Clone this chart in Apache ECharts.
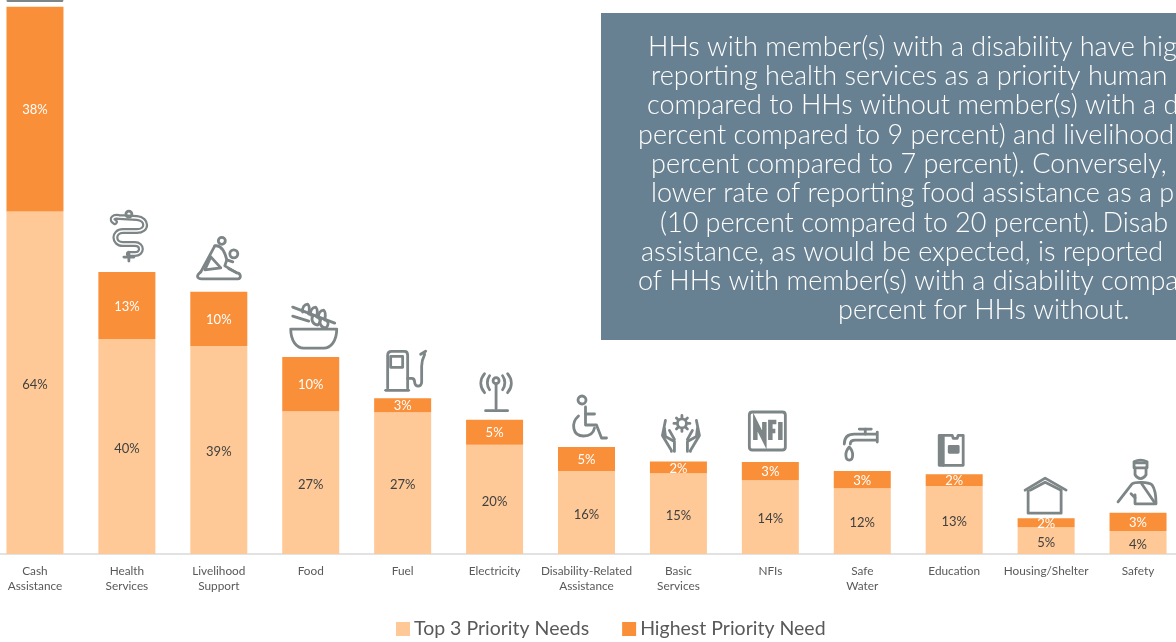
<!DOCTYPE html>
<html><head><meta charset="utf-8">
<script src="https://cdn.jsdelivr.net/npm/echarts@6/dist/echarts.min.js"></script>
<style>html,body{margin:0;padding:0;background:#fff}#c{width:1176px;height:642px}</style>
</head><body><div id="c"></div>
<script>
const categories = ['Cash\nAssistance','Health\nServices','Livelihood\nSupport','Food','Fuel','Electricity','Disability-Related\nAssistance','Basic\nServices','NFIs','Safe\nWater','Education','Housing/Shelter','Safety'];
const top3Needs = [64,40.2,38.9,26.7,26.5,20.4,15.5,15.1,13.8,12.3,12.7,5,4.3];
const highestNeed = [38.3,12.5,10.1,10.1,2.6,4.7,4.5,2.2,3.4,3.2,2.2,1.7,3.4];
const noteLines = ['HHs with member(s) with a disability have hig','reporting health services as a priority human','compared to HHs without member(s) with a d','percent compared to 9 percent) and livelihood','percent compared to 7 percent). Conversely,','lower rate of reporting food assistance as a p','(10 percent compared to 20 percent). Disab','assistance, as would be expected, is reported','of HHs with member(s) with a disability compa','percent for HHs without.'];
const noteStarts = [648,651,647,638,651,651,660,641,638,838];

// icon outlines, local to the top centre of each bar
const icons = [
 {s:['M-27 -6H27']},
 {s:['M-3 -15H7','M2 -20V-11'],t:['M-12 -50C-17 -53 -13 -56 -8 -55L10 -54C21 -53 21 -41 10 -41L-4 -41C-14 -41 -14 -28 -4 -28L8 -28C16 -28 16 -18 8 -18L2 -18'],c:[[2,-58,3]]},
 {s:['M-18 -20C-23 -16 -22 -13 -17 -13H19C23 -13 22 -19 18 -19L10 -23','M-4 -46L-18 -20','M-4 -46C2 -47 6 -40 8 -32L14 -30','M-8 -35L-14 -22L2 -24L-8 -35','M8 -32L6 -26L18 -19'],c:[[3,-51,3.5],[15,-38,4]]},
 {s:['M-20 -28H26C26 -16 20 -9 13 -9H-7C-14 -9 -20 -16 -20 -28Z','M-18 -50L24 -34','M-18 -41L-2 -36','M-8 -45C-9 -50 -6 -53 -3 -53C0 -50 -2 -45 -2 -43','M0 -42C-1 -47 2 -50 5 -50C8 -47 6 -42 6 -40','M8 -39C7 -44 10 -47 13 -47C16 -44 14 -39 14 -37','M2 -41C0 -37 2 -33 7 -32C10 -35 10 -38 8 -39','M10 -38C8 -34 10 -30 15 -29C18 -32 18 -35 16 -36']},
 {s:['M-15 -10V-43C-15 -46 -13 -47 -11 -47H2C4 -47 5 -46 5 -43V-10','M-12 -42H0V-31H-12Z','M-17 -8H6','M5 -20H9C11 -20 12 -18 12 -16C12 -11 19 -11 19 -16V-32C19 -36 20 -40 22 -44','M18 -44L23 -47']},
 {s:['M1.5 -36V-11','M-9 -9H13','M-5 -44C-8 -40 -8 -34 -5 -30','M-10 -46C-15 -40 -15 -33 -10 -27','M8 -44C11 -40 11 -34 8 -30','M13 -46C18 -40 18 -33 13 -27'],c:[[1.5,-39,3]]},
 {s:['M-1 -40V-22H10L15 -9L20 -9','M-1 -33H8','M-8 -31C-16 -24 -14 -11 -3 -11C3 -11 7 -14 8 -19'],c:[[-4.5,-47,4]]},
 {s:['M-13 -41L-16 -26L-7 -11V-10','M-14 -33L-13 -25L-4 -20V-10','M-9 -31L-4 -22','M18 -41L21 -26L12 -11V-10','M19 -33L18 -25L9 -20V-10','M14 -31L9 -22','M3.5 -46V-44M3.5 -32V-30M-4.5 -38H-2.5M9.5 -38H11.5M-2 -43.5L-0.5 -42M7.5 -34L9 -32.5M9 -43.5L7.5 -42M-0.5 -34L-2 -32.5'],c:[[3.5,-38,4.5]]},
 {s:['M-18 -50H12C14 -50 15 -49 15 -47V-15C15 -13 14 -12 12 -12H-18C-20 -12 -21 -13 -21 -15V-47C-21 -49 -20 -50 -18 -50Z']},
 {s:['M-18 -27C-18 -34 -14 -37 -8 -37H14','M-12 -27C-12 -30 -10 -31 -7 -31H14','M15 -39V-29','M-3 -42H9','M3 -42V-37','M-13 -24C-18 -19 -17 -11 -13 -11C-9 -11 -8 -19 -13 -24']},
 {s:['M-15 -39H-2L-1 -36H3L4 -39H9V-9H-15Z','M-11 -39V-9','M-5 -28H4V-22H-5Z'],f:['M-15 -39H-10V-9H-15Z','M-5 -28H4V-22H-5Z']},
 {s:['M-21 -28L-1 -40L20 -28','M-16 -28L-1 -36L15 -28','M-18 -27V-5H15V-27']},
 {s:['M-4 -50H9V-45H-4Z','M-3 -45V-38C0 -33 5 -33 8 -38V-45','M-4 -51C0 -53 5 -53 9 -51','M-20 -11L-6 -29C-3 -31 10 -31 14 -28C17 -24 18 -16 18 -9H-3V-18','M-7 -19L-3 -15M3 -30L16 -11']}
];
const iconData = top3Needs.map((v,i)=>[i, v+highestNeed[i]]);
const pct = p => Math.round(p.value)+'%';
const stroke = '#7d8587';
const lineStyle = {fill:'none',stroke,lineWidth:2.8,lineCap:'round',lineJoin:'round'};

const chart = echarts.init(document.getElementById('c'),null,{renderer:'canvas'});
const font = 'Lato, Carlito, sans-serif';
chart.setOption({
 animation:false,
 backgroundColor:'#fff',
 textStyle:{fontFamily:font},
 grid:{left:-11,width:1195,top:-34.5,height:588.5,containLabel:false,outerBoundsMode:'none'},
 legend:{left:391,top:614,itemWidth:14,itemHeight:14,itemGap:33,icon:'rect',
   data:['Top 3 Priority Needs','Highest Priority Need'],
   textStyle:{fontSize:19.5,color:'#595959',fontFamily:font,padding:[2,0,0,-1]}},
 xAxis:{type:'category',data:categories,axisTick:{show:false},
   axisLine:{lineStyle:{color:'#d9d9d9',width:1.5}},
   axisLabel:{color:'#595959',fontSize:11.8,lineHeight:15,margin:10,interval:0,fontFamily:font}},
 yAxis:{type:'value',min:0,max:110,show:false,splitLine:{show:false}},
 series:[
  {name:'Top 3 Priority Needs',type:'bar',stack:'n',data:top3Needs,barWidth:57,
   itemStyle:{color:'#fec997'},
   label:{show:true,position:'inside',offset:[0,2],formatter:pct,color:'#404040',fontSize:13,fontFamily:font}},
  {name:'Highest Priority Need',type:'bar',stack:'n',data:highestNeed,barWidth:57,
   itemStyle:{color:'#f98f38'},
   label:{show:true,position:'inside',offset:[0,1],formatter:pct,color:'#fff',fontSize:13,fontFamily:font}},
  {type:'custom',data:iconData,encode:{x:0,y:1},clip:false,silent:true,z:5,
   renderItem:(params,api)=>{
     const ic = icons[api.value(0)];
     const pt = api.coord([api.value(0),api.value(1)]);
     const children = [];
     (ic.t||[]).forEach(d=>{
       children.push({type:'path',shape:{pathData:d},style:{...lineStyle,lineWidth:6}});
       children.push({type:'path',shape:{pathData:d},style:{...lineStyle,stroke:'#fff',lineWidth:1.6}});
     });
     ic.s.forEach(d=>children.push({type:'path',shape:{pathData:d},style:lineStyle}));
     (ic.f||[]).forEach(d=>children.push({type:'path',shape:{pathData:d},style:{fill:stroke}}));
     (ic.c||[]).forEach(c=>children.push({type:'circle',shape:{cx:c[0],cy:c[1],r:c[2]},style:{fill:'none',stroke,lineWidth:2.8}}));
     if(api.value(0)===8){
       children.push({type:'path',shape:{pathData:'M-15 -22V-40L-6 -22V-40M0 -22V-40H6M0 -31H5M10 -22V-40'},style:{fill:'none',stroke,lineWidth:4.5}});
     }
     return {type:'group',x:pt[0],y:pt[1],children};
   }}
 ],
 graphic:[
  {type:'rect',shape:{x:601,y:13,width:575,height:327},style:{fill:'#688192'},z:10},
  ...noteLines.map((t,i)=>({type:'text',x:noteStarts[i],y:47+i*29.3,z:11,
     style:{text:t,fill:'#fff',font:'300 27px '+font,verticalAlign:'middle'}}))
 ]
});
</script></body></html>
